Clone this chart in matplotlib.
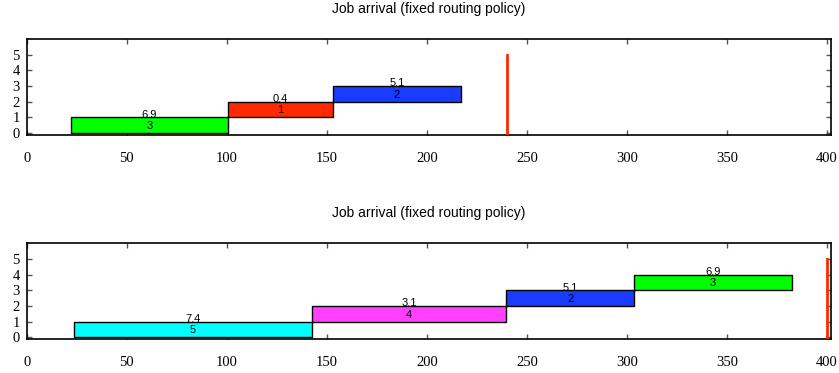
import matplotlib
matplotlib.use("Agg")
import matplotlib.pyplot as plt

title = "Job arrival (fixed routing policy)"

# Top panel: job bars (start, end, level, value label, job id)
top_start = [22, 100.5, 153]
top_end = [100.5, 153, 217]
top_level = [0, 1, 2]
top_value = ["6.9", "0.4", "5.1"]
top_job = ["3", "1", "2"]
top_color = ["#00ff00", "#ff2a00", "#1a3cff"]
top_marker = 240

# Bottom panel
bot_start = [23.7, 142.7, 239.5, 303.7]
bot_end = [142.7, 239.5, 303.7, 382.5]
bot_level = [0, 1, 2, 3]
bot_value = ["7.4", "3.1", "5.1", "6.9"]
bot_job = ["5", "4", "2", "3"]
bot_color = ["#00ffff", "#ff40ff", "#1a3cff", "#00ff00"]
bot_marker = 400

x_ticks = [0, 50, 100, 150, 200, 250, 300, 350, 400]
y_ticks = [0, 1, 2, 3, 4, 5]

fig = plt.figure(figsize=(8.39, 3.73), dpi=100)
ax_top = fig.add_axes([0.0318, 0.638, 0.9587, 0.2574])
ax_bot = fig.add_axes([0.0318, 0.0903, 0.9587, 0.2574])


def draw(ax, starts, ends, levels, values, jobs, colors, marker):
    for s, e, lv, val, job, c in zip(starts, ends, levels, values, jobs, colors):
        ax.bar(s, 1, width=e - s, bottom=lv, align="edge", color=c,
               edgecolor="black", linewidth=1.0, zorder=2)
        mid = (s + e) / 2
        ax.text(mid, lv + 1.17, val, ha="center", va="center",
                fontsize=8, family="Liberation Sans", zorder=3)
        ax.text(mid, lv + 0.45, job, ha="center", va="center",
                fontsize=8, family="Liberation Sans", zorder=3)
    ax.plot([marker, marker], [0, 5], color="#ff2a00", linewidth=2, zorder=4)
    ax.set_xlim(0, 402)
    ax.set_ylim(-0.14, 6.02)
    ax.set_xticks(x_ticks)
    ax.set_yticks(y_ticks)
    ax.tick_params(direction="in", length=3.5, width=1, color="#555555",
                   top=True, right=True, labelsize=10.5)
    for lab in ax.get_xticklabels() + ax.get_yticklabels():
        lab.set_family("Liberation Serif")
    ax.tick_params(axis="x", pad=12)
    ax.tick_params(axis="y", pad=5)
    for sp in ax.spines.values():
        sp.set_linewidth(1.2)
    ax.set_title(title, fontsize=10, family="Liberation Sans", pad=19)


draw(ax_top, top_start, top_end, top_level, top_value, top_job, top_color, top_marker)
draw(ax_bot, bot_start, bot_end, bot_level, bot_value, bot_job, bot_color, bot_marker)

fig.savefig("out.png", dpi=100)
